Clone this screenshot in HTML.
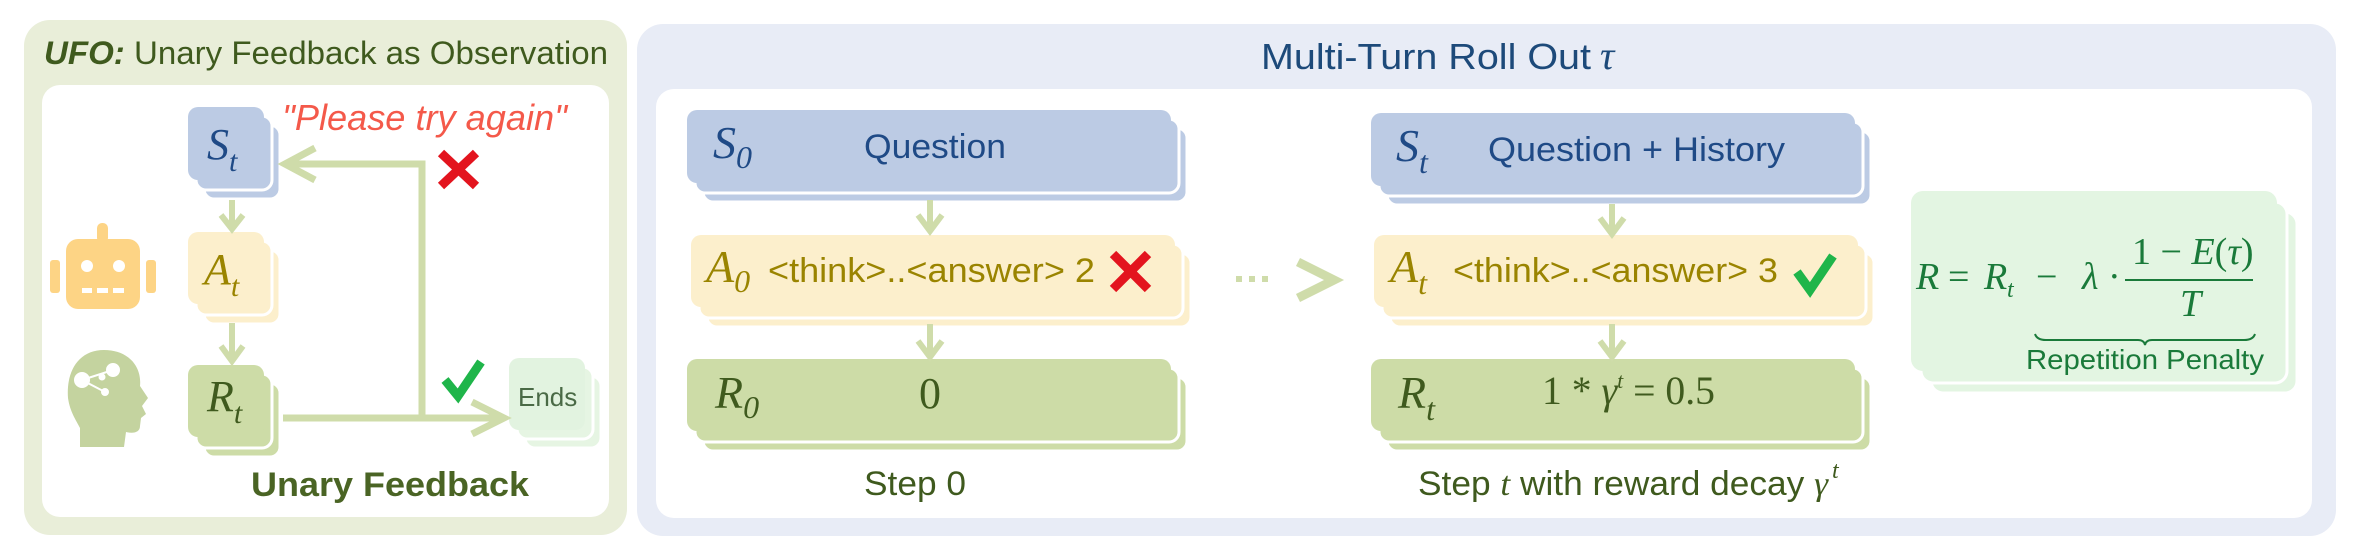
<!DOCTYPE html>
<html><head><meta charset="utf-8"><style>
html,body{margin:0;padding:0;background:#fff;}
svg{display:block;}
.sans{font-family:"Liberation Sans",sans-serif;}
.serif{font-family:"Liberation Serif",serif;font-style:italic;}
</style></head><body>
<svg width="2362" height="556" viewBox="0 0 2362 556" xmlns="http://www.w3.org/2000/svg">
<!-- Left panel -->
<rect x="24" y="20" width="603" height="515" rx="26" fill="#e9eed9"/>
<rect x="42" y="85" width="567" height="432" rx="18" fill="#fff"/>
<text x="44" y="64" class="sans" font-size="32" fill="#3f5a1e" textLength="564" lengthAdjust="spacingAndGlyphs"><tspan font-weight="bold" font-style="italic">UFO:</tspan> Unary Feedback as Observation</text>

<g>
<rect x="204" y="125" width="76" height="74" rx="10" fill="#bccbe4" stroke="#fff" stroke-width="3"/>
<rect x="196" y="116" width="76" height="74" rx="10" fill="#bccbe4" stroke="#fff" stroke-width="3"/>
<rect x="188" y="107" width="76" height="73" rx="10" fill="#bccbe4"/>
<text x="207" y="159" class="serif" font-size="44" fill="#1f4a86">S<tspan font-size="30" dy="12">t</tspan></text>

<rect x="204" y="250" width="76" height="74" rx="10" fill="#fcefcc" stroke="#fff" stroke-width="3"/>
<rect x="196" y="241" width="76" height="74" rx="10" fill="#fcefcc" stroke="#fff" stroke-width="3"/>
<rect x="188" y="232" width="76" height="72" rx="10" fill="#fcefcc"/>
<text x="204" y="284" class="serif" font-size="44" fill="#9a8400">A<tspan font-size="30" dy="12">t</tspan></text>

<rect x="204" y="383" width="76" height="74" rx="10" fill="#cddca7" stroke="#fff" stroke-width="3"/>
<rect x="196" y="374" width="76" height="74" rx="10" fill="#cddca7" stroke="#fff" stroke-width="3"/>
<rect x="188" y="365" width="76" height="72" rx="10" fill="#cddca7"/>
<text x="207" y="411" class="serif" font-size="44" fill="#3f5a1e">R<tspan font-size="30" dy="12">t</tspan></text>

<rect x="525" y="376" width="76" height="72" rx="10" fill="#e6f5e3" stroke="#fff" stroke-width="3"/>
<rect x="517" y="367" width="76" height="72" rx="10" fill="#e6f5e3" stroke="#fff" stroke-width="3"/>
<rect x="509" y="358" width="76" height="72" rx="10" fill="#e2f3e0"/>
<text x="518" y="406" class="sans" font-size="26" fill="#4a6a46">Ends</text>
</g>
<g stroke="#cfdcaa" stroke-width="6" fill="none">
<line x1="232" y1="200" x2="232" y2="228"/>
<polyline points="221,215 232,229 243,215"/>
<line x1="232" y1="323" x2="232" y2="361"/>
<polyline points="221,346 232,361 243,346"/>
<polyline points="283,418 500,418" stroke-width="7"/>
<polyline points="472,402 504,418 472,434" stroke-width="7"/>
<polyline points="422,418 422,164 290,164" stroke-width="7"/>
<polyline points="315,148 285,164 315,180" stroke-width="7"/>
</g>
<text x="282" y="130" class="sans" font-size="36" font-style="italic" fill="#f4594a" textLength="285" lengthAdjust="spacingAndGlyphs">"Please try again"</text>
<g stroke="#e3141e" stroke-width="9"><line x1="441" y1="153" x2="476" y2="186"/><line x1="476" y1="153" x2="441" y2="186"/></g>
<path d="M445,380 L458,396 L481,362" stroke="#1fb54a" stroke-width="9" fill="none"/>
<text x="251" y="496" class="sans" font-size="34" font-weight="bold" fill="#4a6424" textLength="278" lengthAdjust="spacingAndGlyphs">Unary Feedback</text>
<g fill="#fdd485">
<rect x="97" y="223" width="11" height="20" rx="5"/>
<rect x="66" y="239" width="74" height="70" rx="12"/>
<rect x="50" y="260" width="10" height="33" rx="3"/>
<rect x="146" y="260" width="10" height="33" rx="3"/>
</g>
<g fill="#fff"><circle cx="87" cy="266" r="6"/><circle cx="119" cy="266" r="6"/>
<rect x="82" y="288" width="10" height="5"/><rect x="97" y="288" width="11" height="5"/><rect x="113" y="288" width="11" height="5"/></g>
<path d="M104,350 C78,350 66,372 68,398 C70,412 76,420 80,428 L80,447 L124,447 L126,432 C134,434 140,432 140,426 L141,418 L146,414 L142,406 L148,398 L140,386 C142,366 128,350 104,350 Z" fill="#c4d39f"/>
<g fill="#fff" stroke="#fff" stroke-width="2"><circle cx="82" cy="380" r="7"/><circle cx="113" cy="370" r="6"/><circle cx="105" cy="392" r="3"/><line x1="82" y1="380" x2="113" y2="370"/><line x1="82" y1="380" x2="105" y2="392"/><circle cx="102" cy="377" r="2.5"/></g>

<!-- Right panel -->
<rect x="637" y="24" width="1699" height="512" rx="26" fill="#e8ecf6"/>
<rect x="656" y="89" width="1656" height="429" rx="18" fill="#fff"/>
<text x="1261" y="69" class="sans" font-size="36" fill="#1d4a7a" textLength="330" lengthAdjust="spacingAndGlyphs">Multi-Turn Roll Out</text>
<text x="1600" y="69" class="serif" font-size="40" fill="#1d4a7a">τ</text>

<g stroke="#fff" stroke-width="3">
<rect x="703" y="128" width="484" height="74" rx="10" fill="#bccbe4"/>
<rect x="695" y="119" width="484" height="74" rx="10" fill="#bccbe4"/>
<rect x="707" y="253" width="484" height="74" rx="10" fill="#fcefcc"/>
<rect x="699" y="244" width="484" height="74" rx="10" fill="#fcefcc"/>
<rect x="703" y="377" width="484" height="74" rx="10" fill="#cddca7"/>
<rect x="695" y="368" width="484" height="74" rx="10" fill="#cddca7"/>
<rect x="1387" y="131" width="484" height="74" rx="10" fill="#bccbe4"/>
<rect x="1379" y="122" width="484" height="74" rx="10" fill="#bccbe4"/>
<rect x="1390" y="253" width="484" height="74" rx="10" fill="#fcefcc"/>
<rect x="1382" y="244" width="484" height="74" rx="10" fill="#fcefcc"/>
<rect x="1387" y="377" width="484" height="74" rx="10" fill="#cddca7"/>
<rect x="1379" y="368" width="484" height="74" rx="10" fill="#cddca7"/>
<rect x="1931" y="212" width="366" height="181" rx="12" fill="#e3f5e2"/>
<rect x="1921" y="202" width="366" height="181" rx="12" fill="#e3f5e2"/>
</g>
<rect x="687" y="110" width="484" height="73" rx="10" fill="#bccbe4"/>
<rect x="691" y="235" width="484" height="72" rx="10" fill="#fcefcc"/>
<rect x="687" y="359" width="484" height="72" rx="10" fill="#cddca7"/>
<rect x="1371" y="113" width="484" height="73" rx="10" fill="#bccbe4"/>
<rect x="1374" y="235" width="484" height="72" rx="10" fill="#fcefcc"/>
<rect x="1371" y="359" width="484" height="72" rx="10" fill="#cddca7"/>
<rect x="1911" y="191" width="366" height="180" rx="12" fill="#e3f5e2"/>

<text x="713" y="158" class="serif" font-size="46" fill="#1f4a86">S<tspan font-size="32" dy="10">0</tspan></text>
<text x="864" y="158" class="sans" font-size="34" fill="#1f4a86" textLength="142" lengthAdjust="spacingAndGlyphs">Question</text>
<text x="706" y="282" class="serif" font-size="46" fill="#9a8400">A<tspan font-size="32" dy="10">0</tspan></text>
<text x="768" y="282" class="sans" font-size="34" fill="#9a8400" textLength="327" lengthAdjust="spacingAndGlyphs">&lt;think&gt;..&lt;answer&gt; 2</text>
<g stroke="#e3141e" stroke-width="9"><line x1="1113" y1="254" x2="1148" y2="289"/><line x1="1148" y1="254" x2="1113" y2="289"/></g>
<text x="715" y="408" class="serif" font-size="46" fill="#3f5a1e">R<tspan font-size="32" dy="10">0</tspan></text>
<text x="919" y="408" font-family="Liberation Serif,serif" font-size="44" fill="#3f5a1e">0</text>
<text x="864" y="495" class="sans" font-size="34" fill="#3f5a1e" textLength="102" lengthAdjust="spacingAndGlyphs">Step 0</text>

<text x="1396" y="161" class="serif" font-size="46" fill="#1f4a86">S<tspan font-size="32" dy="12">t</tspan></text>
<text x="1488" y="161" class="sans" font-size="34" fill="#1f4a86" textLength="297" lengthAdjust="spacingAndGlyphs">Question + History</text>
<text x="1390" y="282" class="serif" font-size="46" fill="#9a8400">A<tspan font-size="32" dy="12">t</tspan></text>
<text x="1453" y="282" class="sans" font-size="34" fill="#9a8400" textLength="325" lengthAdjust="spacingAndGlyphs">&lt;think&gt;..&lt;answer&gt; 3</text>
<path d="M1797,272 L1810,290 L1833,256" stroke="#1fb54a" stroke-width="9" fill="none"/>
<text x="1398" y="408" class="serif" font-size="46" fill="#3f5a1e">R<tspan font-size="32" dy="12">t</tspan></text>
<text x="1542" y="404" font-family="Liberation Serif,serif" font-size="40" fill="#3f5a1e" textLength="173" lengthAdjust="spacingAndGlyphs">1 * <tspan font-style="italic">γ</tspan><tspan font-size="22" dy="-16" font-style="italic">t</tspan><tspan dy="16"> = 0.5</tspan></text>
<text x="1418" y="495" class="sans" font-size="34" fill="#3f5a1e" textLength="410" lengthAdjust="spacingAndGlyphs">Step <tspan font-family="Liberation Serif,serif" font-style="italic">t</tspan> with reward decay <tspan font-family="Liberation Serif,serif" font-style="italic">γ</tspan></text>
<text x="1832" y="478" font-family="Liberation Serif,serif" font-style="italic" font-size="24" fill="#3f5a1e">t</text>

<g stroke="#cfdcaa" stroke-width="6" fill="none">
<line x1="930" y1="200" x2="930" y2="230"/><polyline points="918,215 930,231 942,215"/>
<line x1="930" y1="324" x2="930" y2="356"/><polyline points="918,341 930,357 942,341"/>
<line x1="1612" y1="204" x2="1612" y2="233"/><polyline points="1600,218 1612,234 1624,218"/>
<line x1="1612" y1="324" x2="1612" y2="356"/><polyline points="1600,341 1612,357 1624,341"/>
<polyline points="1298,262 1334,280 1298,298" stroke-width="9"/>
</g>
<g fill="#cfdcaa"><rect x="1236" y="276" width="6" height="6"/><rect x="1249" y="276" width="6" height="6"/><rect x="1262" y="276" width="6" height="6"/></g>

<!-- formula -->
<g fill="#1a7a3a" font-family="Liberation Serif,serif" font-size="38">
<text x="1916" y="289" font-style="italic">R</text>
<text x="1948" y="289">=</text>
<text x="1984" y="289" font-style="italic">R</text>
<text x="2007" y="297" font-style="italic" font-size="24">t</text>
<text x="2036" y="289">−</text>
<text x="2082" y="289" font-style="italic">λ</text>
<text x="2108" y="289">·</text>
<text x="2132" y="264">1 − <tspan font-style="italic">E</tspan>(<tspan font-style="italic">τ</tspan>)</text>
<text x="2180" y="316" font-style="italic">T</text>
</g>
<text x="2026" y="369" class="sans" font-size="28" fill="#1a7a3a" textLength="238" lengthAdjust="spacingAndGlyphs">Repetition Penalty</text>
<line x1="2125" y1="280" x2="2253" y2="280" stroke="#1a7a3a" stroke-width="2"/>
<path d="M2035,334 Q2037,340 2046,340 L2138,340 Q2144,340 2145,345 Q2146,340 2152,340 L2244,340 Q2253,340 2255,334" fill="none" stroke="#1a7a3a" stroke-width="2"/>
</svg>
</body></html>
